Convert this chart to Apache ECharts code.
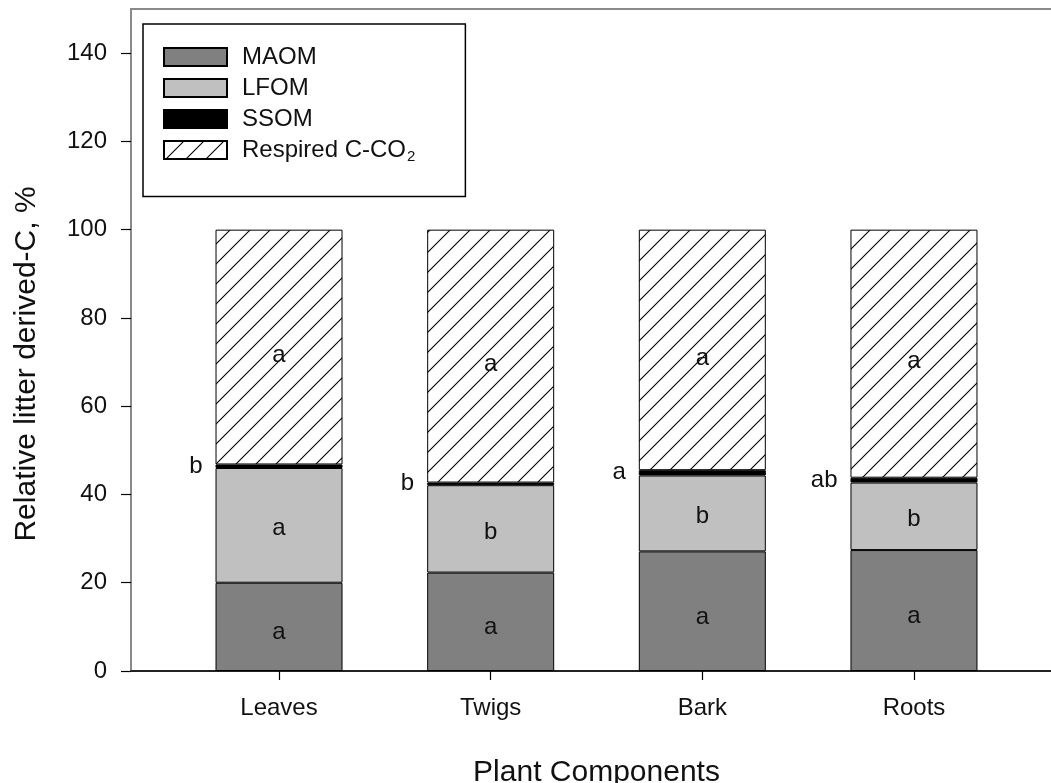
<!DOCTYPE html>
<html><head><meta charset="utf-8">
<script src="https://cdn.jsdelivr.net/npm/echarts@6/dist/echarts.min.js"></script>
<style>html,body{margin:0;padding:0;background:#fff}#c{width:1051px;height:783px}</style>
</head><body><div id="c"></div>
<script>
// ---- data ----
const categories = ['Leaves', 'Twigs', 'Bark', 'Roots'];
const seriesNames = ['MAOM', 'LFOM', 'SSOM', 'Respired C-CO2'];
const maom = [20.0, 22.3, 27.1, 27.4];
const lfom = [26.0, 19.8, 17.2, 15.3];
const ssom = [0.8, 0.6, 1.2, 1.1];
const respired = [53.2, 57.3, 54.5, 56.2];
const maomLetters = ['a', 'a', 'a', 'a'];
const lfomLetters = ['a', 'b', 'b', 'b'];
const ssomLetters = ['b', 'b', 'a', 'ab'];
const respiredLetters = ['a', 'a', 'a', 'a'];
const xTitle = 'Plant Components';
const yTitle = 'Relative litter derived-C, %';

// ---- styles ----
const FONT = '"Liberation Sans", Arial, Helvetica, sans-serif';
const TOP = 9, BOTTOM = 112;

function hatch() {
  const s = 20;
  const cv = document.createElement('canvas');
  cv.width = s; cv.height = s;
  const ctx = cv.getContext('2d');
  ctx.fillStyle = '#fff';
  ctx.fillRect(0, 0, s, s);
  ctx.strokeStyle = '#000';
  ctx.lineWidth = 1.1;
  ctx.beginPath();
  ctx.moveTo(0, s); ctx.lineTo(s, 0);
  ctx.moveTo(-2, 2); ctx.lineTo(2, -2);
  ctx.moveTo(s - 2, s + 2); ctx.lineTo(s + 2, s - 2);
  ctx.stroke();
  return { image: cv, repeat: 'repeat' };
}

function mkSeries(name, values, letters, color, labelOpts) {
  return {
    name: name,
    type: 'bar',
    stack: 'total',
    xAxisIndex: 0, yAxisIndex: 0,
    barWidth: 127,
    data: values,
    itemStyle: { color: color, borderColor: '#000', borderWidth: 1 },
    label: Object.assign({
      show: true,
      fontFamily: FONT,
      fontSize: 24,
      color: '#111',
      formatter: p => letters[p.dataIndex]
    }, labelOpts),
    emphasis: { disabled: true },
    silent: true
  };
}

const chart = echarts.init(document.getElementById('c'), null, { renderer: 'canvas' });
chart.setOption({
  animation: false,
  backgroundColor: '#fff',
  textStyle: { fontFamily: FONT },
  grid: [
    // bar grid: category bands
    { left: 173.2, top: TOP, width: 846.6, bottom: BOTTOM, show: false,
      containLabel: false, outerBoundsMode: 'none' },
    // frame grid: axes, ticks, titles
    { left: 131, top: TOP, right: -11, bottom: BOTTOM, show: true,
      containLabel: false, outerBoundsMode: 'none',
      borderColor: '#8a8a8a', borderWidth: 2, backgroundColor: 'transparent', z: 0 }
  ],
  legend: {
    orient: 'vertical',
    left: 143, top: 24,
    icon: 'rect',
    itemWidth: 63, itemHeight: 18, itemGap: 7,
    padding: [21, 50, 32, 20],
    borderColor: '#000', borderWidth: 1.5,
    backgroundColor: '#fff',
    selectedMode: false,
    data: seriesNames,
    formatter: n => n === 'Respired C-CO2' ? 'Respired C-CO{sub|2}' : n,
    textStyle: {
      fontFamily: FONT, fontSize: 24, color: '#111', padding: [0, 0, 0, 10],
      rich: { sub: { fontFamily: FONT, fontSize: 15, color: '#111', padding: [14, 0, 0, 1] } }
    }
  },
  xAxis: [
    {
      gridIndex: 0,
      type: 'category',
      data: categories,
      axisLine: { show: false },
      axisTick: { show: true, alignWithLabel: true, length: 9, lineStyle: { color: '#000', width: 1.2 } },
      axisLabel: { margin: 25, fontFamily: FONT, fontSize: 24, color: '#111' },
      splitLine: { show: false }
    },
    {
      gridIndex: 1,
      type: 'value',
      min: 0, max: 1,
      name: xTitle,
      nameLocation: 'middle',
      nameGap: 87,
      nameTextStyle: { fontFamily: FONT, fontSize: 30, color: '#111' },
      axisLine: { show: true, lineStyle: { color: '#000', width: 1.5 } },
      axisTick: { show: false },
      axisLabel: { show: false },
      splitLine: { show: false }
    }
  ],
  yAxis: [
    {
      gridIndex: 0,
      type: 'value',
      min: 0, max: 150,
      show: false
    },
    {
      gridIndex: 1,
      type: 'value',
      min: 0, max: 150, interval: 20,
      name: yTitle,
      nameLocation: 'middle',
      nameGap: 89,
      nameTextStyle: { fontFamily: FONT, fontSize: 30, color: '#111', padding: [0, 48, 0, 0] },
      axisLine: { show: true, lineStyle: { color: '#8a8a8a', width: 2 } },
      axisTick: { show: true, length: 10, lineStyle: { color: '#000', width: 1.2 } },
      axisLabel: { showMaxLabel: false, margin: 24, fontFamily: FONT, fontSize: 24, color: '#111' },
      splitLine: { show: false }
    }
  ],
  series: [
    mkSeries(seriesNames[0], maom, maomLetters, '#808080', { position: 'inside', offset: [0, 6] }),
    mkSeries(seriesNames[1], lfom, lfomLetters, '#c0c0c0', { position: 'inside', offset: [0, 3] }),
    mkSeries(seriesNames[2], ssom, ssomLetters, '#000', { position: 'left', distance: 13 }),
    mkSeries(seriesNames[3], respired, respiredLetters, hatch(), { position: 'inside', offset: [0, 8] })
  ]
});
</script></body></html>
